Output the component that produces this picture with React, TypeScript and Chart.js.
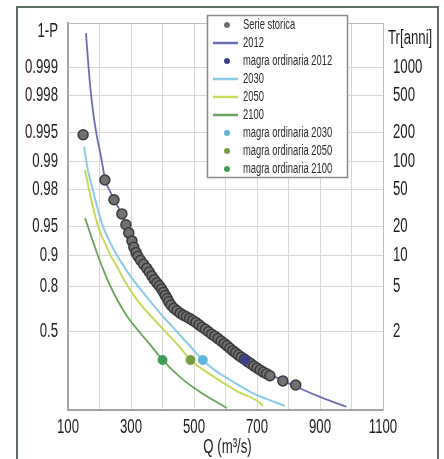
import React, { useEffect, useRef } from 'react';
import { Chart, registerables } from 'chart.js';

Chart.register(...registerables);

// ---- Axis definitions (y axis = Gumbel reduced variate u = -ln(-ln(1-P))) ----
const probTicks = [0.999, 0.998, 0.995, 0.99, 0.98, 0.95, 0.9, 0.8, 0.5];
const probLabels = ['0.999', '0.998', '0.995', '0.99', '0.98', '0.95', '0.9', '0.8', '0.5'];
const returnPeriods = [1000, 500, 200, 100, 50, 20, 10, 5, 2];
const leftHeader = '1-P';
const rightHeader = 'Tr[anni]';
const xLabelValues = [100, 300, 500, 700, 900, 1100];
const xTitle = 'Q (m³/s)';

// ---- Data: Q (m3/s) and reduced variate u ----
const serieQ = [148, 217, 246, 271, 284, 293, 303, 309, 316, 322, 330, 340, 350, 358, 366, 374, 382, 390, 397, 403,
  409, 415, 420, 427, 436, 446, 456, 466, 476, 486, 496, 506, 516, 526, 536, 546, 556, 566, 576, 586,
  596, 605, 614, 623, 632, 641, 650, 660, 670, 680, 690, 700, 710, 720, 730, 741, 782, 823];
const serieU = [5.25, 4.13, 3.64, 3.29, 3.02, 2.82, 2.62, 2.46, 2.33, 2.24, 2.14, 2.04, 1.94, 1.85, 1.75, 1.66, 1.58, 1.51, 1.43, 1.35,
  1.27, 1.19, 1.11, 1.03, 0.95, 0.89, 0.83, 0.78, 0.74, 0.70, 0.65, 0.60, 0.54, 0.48, 0.43, 0.37, 0.31, 0.26, 0.20, 0.14,
  0.08, 0.02, -0.04, -0.10, -0.15, -0.21, -0.26, -0.31, -0.37, -0.42, -0.48, -0.53, -0.58, -0.63, -0.67, -0.72, -0.85, -0.95];

const q2012 = [157, 163, 171, 181, 192, 205, 217, 246, 271, 297, 322, 354, 392, 439, 503, 566, 629, 667, 740, 826, 908, 984];
const u2012 = [7.77, 7.15, 6.41, 5.74, 5.20, 4.70, 4.18, 3.66, 3.27, 2.79, 2.35, 1.93, 1.51, 1.03, 0.59, 0.17, -0.16, -0.35, -0.68, -1.00, -1.27, -1.49];

const q2030 = [151, 163, 179, 198, 214, 233, 249, 268, 290, 319, 347, 376, 401, 430, 455, 490, 528, 569, 614, 686, 762, 788];
const u2030 = [4.95, 4.38, 3.88, 3.31, 2.92, 2.60, 2.35, 2.10, 1.84, 1.53, 1.26, 0.98, 0.75, 0.51, 0.29, -0.01, -0.33, -0.60, -0.82, -1.15, -1.39, -1.47];

const q2050 = [154, 167, 179, 198, 217, 236, 258, 278, 319, 363, 407, 449, 489, 560, 636, 709, 718];
const u2050 = [4.38, 3.88, 3.46, 2.92, 2.57, 2.25, 1.95, 1.65, 1.16, 0.76, 0.39, 0.04, -0.33, -0.73, -1.10, -1.39, -1.47];

const q2100 = [154, 192, 224, 255, 287, 328, 369, 400, 455, 518, 604];
const u2100 = [3.19, 2.32, 1.68, 1.18, 0.76, 0.35, -0.03, -0.33, -0.75, -1.12, -1.52];

const magraNames = ['magra ordinaria 2012', 'magra ordinaria 2030', 'magra ordinaria 2050', 'magra ordinaria 2100'];
const magraQ = [662, 528, 489, 400];
const magraU = [-0.33, -0.33, -0.33, -0.33];

const Y_MIN = -1.57;
const Y_MAX = 8.02;
const LEFT_HEADER_U = 7.8;
const RIGHT_HEADER_U = 7.63;

const FONT = "'Liberation Sans', Arial, sans-serif";
const TEXT = '#1c1c1c';
const GRID = '#d8d8d8';

const C_SERIE = '#717171';
const C_SERIE_B = '#3a3a3a';
const C2012 = '#6a6fb4';
const C2030 = '#8ccbe6';
const C2050 = '#c6da5e';
const C2100 = '#6aa45c';
const CM2012 = '#3d3f8e';
const CM2030 = '#5fb6d6';
const CM2050 = '#7b9c45';
const CM2100 = '#3f9e55';

const gumbel = (p: number) => -Math.log(-Math.log(p));
const pts = (xs: number[], ys: number[]) => xs.map((x, i) => ({ x, y: ys[i] }));

const legendItems = [
  { label: 'Serie storica', kind: 'point', color: C_SERIE },
  { label: '2012', kind: 'line', color: C2012 },
  { label: magraNames[0], kind: 'point', color: CM2012 },
  { label: '2030', kind: 'line', color: C2030 },
  { label: '2050', kind: 'line', color: C2050 },
  { label: '2100', kind: 'line', color: C2100 },
  { label: magraNames[1], kind: 'point', color: CM2030 },
  { label: magraNames[2], kind: 'point', color: CM2050 },
  { label: magraNames[3], kind: 'point', color: CM2100 },
];

// draws condensed text (horizontally squeezed) like the reference's narrow typeface
function condText(ctx: CanvasRenderingContext2D, text: string, x: number, y: number, size: number,
  align: CanvasTextAlign, sx = 0.66, color = TEXT) {
  ctx.save();
  ctx.font = `${size}px ${FONT}`;
  ctx.textBaseline = 'middle';
  ctx.textAlign = align;
  ctx.fillStyle = color;
  ctx.translate(x, y);
  ctx.scale(sx, 1);
  ctx.fillText(text, 0, 0);
  ctx.restore();
}

const framePlugin = {
  id: 'frame',
  beforeDatasetsDraw(chart: any) {
    const { ctx, chartArea: a } = chart;
    ctx.save();
    ctx.strokeStyle = '#bdbdbd';
    ctx.lineWidth = 1;
    ctx.beginPath();
    ctx.moveTo(a.left, a.top + 0.5);
    ctx.lineTo(a.right + 0.5, a.top + 0.5);
    ctx.lineTo(a.right + 0.5, a.bottom);
    ctx.stroke();
    ctx.restore();
  },
};

const labelsPlugin = {
  id: 'condensedLabels',
  afterDraw(chart: any) {
    const { ctx, scales, chartArea: a } = chart;
    const ys = scales.y;
    const y2s = scales.y2;
    const xs = scales.x;
    probTicks.forEach((p, i) => condText(ctx, probLabels[i], a.left - 10, ys.getPixelForValue(gumbel(p)), 20, 'right'));
    condText(ctx, leftHeader, a.left - 10, ys.getPixelForValue(LEFT_HEADER_U), 20, 'right');
    returnPeriods.forEach((t) => condText(ctx, String(t), a.right + 10, y2s.getPixelForValue(gumbel(1 - 1 / t)), 20, 'left'));
    condText(ctx, rightHeader, a.right + 5, y2s.getPixelForValue(RIGHT_HEADER_U), 20, 'left');
    xLabelValues.forEach((v) => condText(ctx, String(v), xs.getPixelForValue(v), a.bottom + 17, 20, 'center'));
    condText(ctx, xTitle, (a.left + a.right) / 2 + 2, a.bottom + 37, 20, 'center');
  },
};

const boxLegendPlugin = {
  id: 'boxLegend',
  afterDraw(chart: any) {
    const { ctx, chartArea: a } = chart;
    const left = a.left + 139;
    const top = a.top - 8;
    const w = 140;
    const h = 162;
    ctx.save();
    ctx.fillStyle = '#ffffff';
    ctx.fillRect(left, top, w, h);
    ctx.strokeStyle = '#8a8a8a';
    ctx.lineWidth = 1.5;
    ctx.strokeRect(left + 0.5, top + 0.5, w, h);
    legendItems.forEach((it, i) => {
      const y = top + 10 + i * 18;
      if (it.kind === 'line') {
        ctx.strokeStyle = it.color;
        ctx.lineWidth = 2.5;
        ctx.beginPath();
        ctx.moveTo(left + 6, y);
        ctx.lineTo(left + 31, y);
        ctx.stroke();
      } else {
        ctx.fillStyle = it.color;
        ctx.beginPath();
        ctx.arc(left + 20, y, 3, 0, Math.PI * 2);
        ctx.fill();
      }
      condText(ctx, it.label, left + 36, y, 14, 'left', 0.67, '#2a2a2a');
    });
    ctx.restore();
  },
};

export default function App() {
  const ref = useRef<HTMLCanvasElement>(null);

  useEffect(() => {
    if (!ref.current) return;
    const lineDs = (label: string, xs: number[], ys: number[], color: string, width: number) => ({
      label,
      data: pts(xs, ys),
      showLine: true,
      borderColor: color,
      backgroundColor: color,
      borderWidth: width,
      pointRadius: 0,
      cubicInterpolationMode: 'monotone',
      order: 3,
    });
    const magraDs = (i: number, color: string) => ({
      label: magraNames[i],
      data: [{ x: magraQ[i], y: magraU[i] }],
      showLine: false,
      pointRadius: 4.5,
      pointBackgroundColor: color,
      pointBorderColor: color,
      pointBorderWidth: 1,
      order: 1,
    });

    const chart = new Chart(ref.current, {
      type: 'scatter',
      data: {
        datasets: [
          {
            label: 'Serie storica',
            data: pts(serieQ, serieU),
            showLine: false,
            pointRadius: 5,
            pointBackgroundColor: C_SERIE,
            pointBorderColor: C_SERIE_B,
            pointBorderWidth: 1.5,
            order: 2,
          } as any,
          lineDs('2012', q2012, u2012, C2012, 1.8),
          magraDs(0, CM2012),
          lineDs('2030', q2030, u2030, C2030, 2),
          lineDs('2050', q2050, u2050, C2050, 2),
          lineDs('2100', q2100, u2100, C2100, 1.8),
          magraDs(1, CM2030),
          magraDs(2, CM2050),
          magraDs(3, CM2100),
        ] as any,
      },
      options: {
        responsive: false,
        animation: false,
        events: [],
        layout: { padding: { top: 23, left: 0, right: 0, bottom: 3 } },
        plugins: {
          legend: { display: false },
          tooltip: { enabled: false },
        },
        scales: {
          x: {
            type: 'linear',
            min: 100,
            max: 1100,
            ticks: { stepSize: 100, autoSkip: false, display: false },
            grid: { color: GRID, drawTicks: false },
            border: { color: '#a3a3a3', width: 2 },
            afterFit: (s: any) => { s.height = 46; },
          },
          y: {
            type: 'linear',
            position: 'left',
            min: Y_MIN,
            max: Y_MAX,
            afterBuildTicks: (axis: any) => {
              axis.ticks = probTicks.map((p) => ({ value: gumbel(p) }));
            },
            ticks: { autoSkip: false, display: false },
            grid: { drawTicks: false, color: GRID },
            border: { color: '#a3a3a3', width: 2 },
            afterFit: (s: any) => { s.width = 68; },
          },
          y2: {
            type: 'linear',
            position: 'right',
            min: Y_MIN,
            max: Y_MAX,
            afterBuildTicks: (axis: any) => {
              axis.ticks = returnPeriods.map((t) => ({ value: gumbel(1 - 1 / t) }));
            },
            ticks: { autoSkip: false, display: false },
            grid: { drawOnChartArea: false, drawTicks: false },
            border: { color: '#bdbdbd', width: 1 },
            afterFit: (s: any) => { s.width = 61; },
          },
        },
      } as any,
      plugins: [framePlugin, labelsPlugin, boxLegendPlugin],
    });
    return () => chart.destroy();
  }, []);

  return (
    <div style={{ position: 'absolute', left: 0, top: 0, width: 444, height: 459, background: '#ffffff', overflow: 'hidden' }}>
      <canvas
        ref={ref}
        width={444}
        height={459}
        style={{ position: 'absolute', left: 0, top: 0, width: 444, height: 459 }}
      />
      <div
        style={{
          position: 'absolute',
          left: 16,
          top: 6,
          width: 423,
          height: 453,
          boxSizing: 'border-box',
          borderTop: '2px solid #5e6e60',
          borderLeft: '2px solid #5e6e60',
          borderRight: '2px solid #5e6e60',
          pointerEvents: 'none',
        }}
      />
    </div>
  );
}
